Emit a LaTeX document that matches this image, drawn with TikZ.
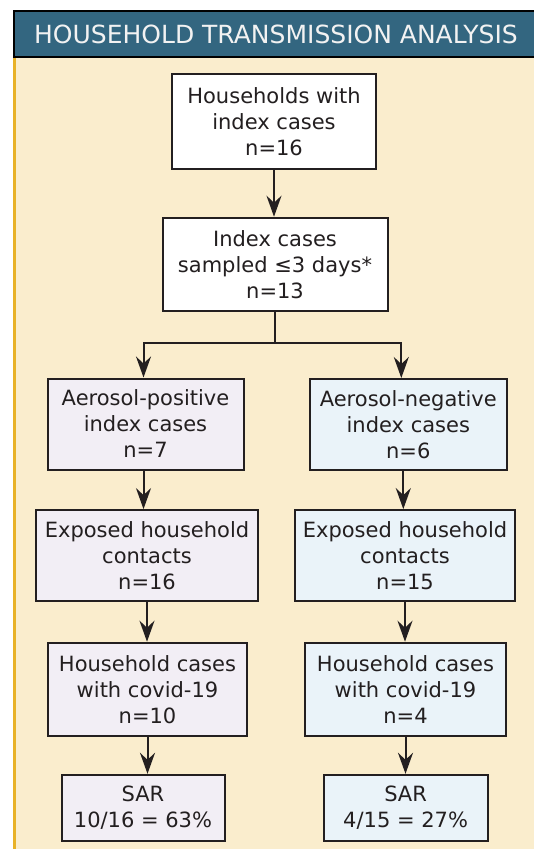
\documentclass[tikz,border=0pt]{standalone}
\usepackage{fontspec}
\setmainfont{DejaVu Sans}
\usepackage{xcolor}
\usetikzlibrary{arrows.meta, positioning}
\definecolor{headblue}{RGB}{51,102,128}
\definecolor{beige}{RGB}{250,237,205}
\definecolor{goldline}{RGB}{232,178,40}
\definecolor{posfill}{RGB}{242,238,245}
\definecolor{negfill}{RGB}{234,243,249}
\definecolor{inkgray}{RGB}{35,31,32}

\begin{document}
\begin{tikzpicture}[x=1pt, y=-1pt,
        box/.style={draw=inkgray, line width=2pt, fill=white, text=inkgray, align=center,
            inner sep=0pt, font=\fontsize{21}{26}\selectfont},
        flow/.style={-{Stealth[length=21pt, width=15pt, inset=7pt]}, draw=inkgray, line width=2pt}]
        \useasboundingbox (0,0) rectangle (534,849);
        % Background
        \fill[beige] (13,57) rectangle (534,849);
        \fill[goldline] (13,57) rectangle (16,849);
        % Header
        \draw[fill=headblue, draw=black, line width=2pt] (14,10.5) rectangle (540,57);
        \node[text={rgb,255:red,242;green,242;blue,242}, font=\fontsize{25}{29}\selectfont] (title) at (276,34) {HOUSEHOLD TRANSMISSION ANALYSIS};
        % Top boxes
        \node[box, minimum width=204pt, minimum height=95pt] (households) at (274,121.5) {Households with\\index cases\\n=16};
        \node[box, minimum width=225pt, minimum height=93pt] (sampled) at (275,264.2) {Index cases\\sampled ≤3 days*\\n=13};
        % Aerosol-positive branch
        \node[box, fill=posfill, minimum width=196pt, minimum height=91pt] (pos) at (145.5,424) {Aerosol-positive\\index cases\\n=7};
        \node[box, fill=posfill, minimum width=222pt, minimum height=91pt] (posexp) at (147,555.6) {Exposed household\\contacts\\n=16};
        \node[box, fill=posfill, minimum width=199pt, minimum height=93pt] (poscases) at (147.5,689.2) {Household cases\\with covid-19\\n=10};
        \node[box, fill=posfill, minimum width=163pt, minimum height=66pt] (possar) at (143,807.8) {SAR\\10/16 = 63\%};
        % Aerosol-negative branch
        \node[box, fill=negfill, minimum width=197pt, minimum height=91pt] (neg) at (408.3,424.5) {Aerosol-negative\\index cases\\n=6};
        \node[box, fill=negfill, minimum width=220pt, minimum height=91pt] (negexp) at (405,555.6) {Exposed household\\contacts\\n=15};
        \node[box, fill=negfill, minimum width=201pt, minimum height=93pt] (negcases) at (405.5,689.2) {Household cases\\with covid-19\\n=4};
        \node[box, fill=negfill, minimum width=164pt, minimum height=66pt] (negsar) at (405.6,807.8) {SAR\\4/15 = 27\%};
        % Arrows
        \draw[flow] (households.south) -- (households.south |- sampled.north);
        \coordinate (split) at ([yshift=-31pt]sampled.south);
        \draw[draw=inkgray, line width=2pt] (sampled.south) -- (split);
        \draw[flow] (split) -| ([xshift=-2pt]pos.north);
        \draw[flow] (split) -| ([xshift=-7pt]neg.north);
        \draw[flow] ([xshift=-2pt]pos.south) -- ([xshift=-2pt]pos.south |- posexp.north);
        \draw[flow] (posexp.south) -- (posexp.south |- poscases.north);
        \draw[flow] (poscases.south) -- (poscases.south |- possar.north);
        \draw[flow] ([xshift=-5pt]neg.south) -- ([xshift=-5pt]neg.south |- negexp.north);
        \draw[flow] (negexp.south) -- (negexp.south |- negcases.north);
        \draw[flow] (negcases.south) -- (negcases.south |- negsar.north);
    \end{tikzpicture}
\end{document}
